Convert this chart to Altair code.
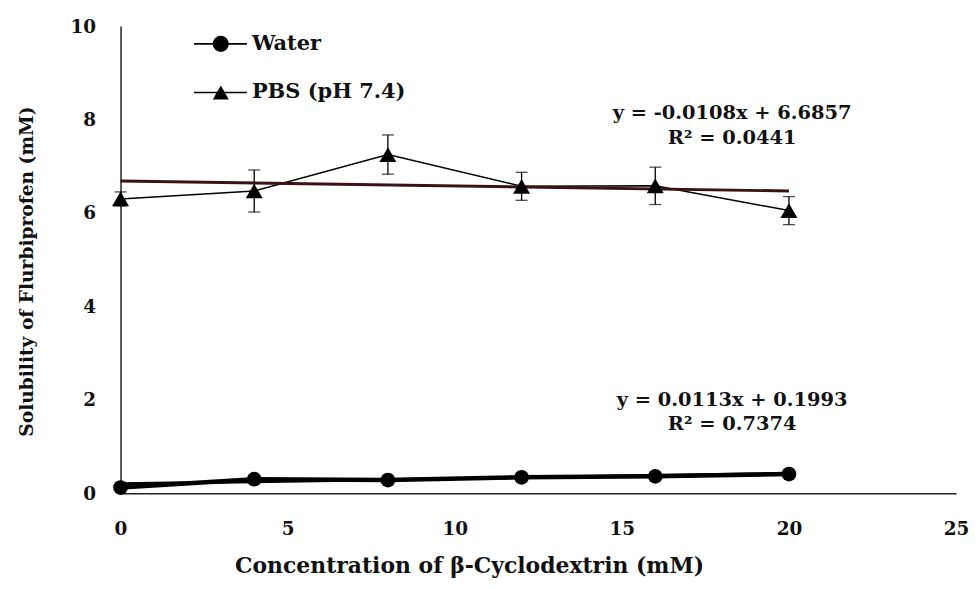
import altair as alt
import pandas as pd

# ---- data ----
conc = [0, 4, 8, 12, 16, 20]
water = [0.12, 0.30, 0.28, 0.34, 0.36, 0.41]
pbs = [6.30, 6.47, 7.25, 6.57, 6.58, 6.05]
pbs_err = [0.15, 0.45, 0.42, 0.30, 0.40, 0.30]
series = ["Water", "PBS (pH 7.4)"]
trend_slope = [0.0113, -0.0108]
trend_intercept = [0.1993, 6.6857]
trend_x = [0, 20]
eq_text = ["y = 0.0113x + 0.1993", "R² = 0.7374", "y = -0.0108x + 6.6857", "R² = 0.0441"]
eq_x = [18.3, 18.3, 18.3, 18.3]
eq_y = [2.0, 1.47, 8.14, 7.61]
x_ticks = [0, 5, 10, 15, 20, 25]
y_ticks = [0, 2, 4, 6, 8, 10]
# legend placement, in data units (top-left corner of the plot)
legend_y = [9.62, 8.58]
legend_x_start = [2.20, 2.20]
legend_x_end = [3.78, 3.78]
legend_x_marker = [3.0, 3.0]
legend_x_label = [3.93, 3.93]

FONT = "DejaVu Serif"

water_df = pd.DataFrame({"x": conc, "y": water})
pbs_df = pd.DataFrame({"x": conc, "y": pbs, "lo": [v - e for v, e in zip(pbs, pbs_err)],
                       "hi": [v + e for v, e in zip(pbs, pbs_err)]})
trend_df = pd.DataFrame({"x": trend_x * 2,
                         "series": [series[0]] * 2 + [series[1]] * 2,
                         "m": [trend_slope[0]] * 2 + [trend_slope[1]] * 2,
                         "b": [trend_intercept[0]] * 2 + [trend_intercept[1]] * 2})
eq_df = pd.DataFrame({"x": eq_x, "y": eq_y, "t": eq_text})
legend_df = pd.DataFrame({"name": series, "y": legend_y, "x0": legend_x_start,
                          "x1": legend_x_end, "xm": legend_x_marker, "xl": legend_x_label})

xscale = alt.Scale(domain=[0, 25], nice=False, zero=False)
yscale = alt.Scale(domain=[0, 10], nice=False)

X = alt.X("x:Q", scale=xscale, axis=alt.Axis(
    values=x_ticks, title="Concentration of  β-Cyclodextrin (mM)",
    titleX=350, titleY=73, titleBaseline="middle", titleAnchor="middle",
    titleFontSize=22, labelPadding=26, labelFlush=False))
Y = alt.Y("y:Q", scale=yscale, axis=alt.Axis(
    values=y_ticks, title="Solubility of Flurbiprofen (mM)",
    titleX=-94, titleY=246, titleBaseline="middle", titleFontSize=18.7, labelPadding=25))

base_x = alt.X("x:Q", scale=xscale)
base_y = alt.Y("y:Q", scale=yscale)

# PBS series line (thin)
pbs_line = alt.Chart(pbs_df).mark_line(color="black", strokeWidth=1.5).encode(x=X, y=Y)

# error bars
err_rule = alt.Chart(pbs_df).mark_rule(color="black", strokeWidth=1.3).encode(
    x=base_x, y=alt.Y("lo:Q", scale=yscale), y2="hi:Q")
err_cap_hi = alt.Chart(pbs_df).mark_tick(color="black", orient="horizontal", size=12, thickness=1.3).encode(
    x=base_x, y=alt.Y("hi:Q", scale=yscale))
err_cap_lo = alt.Chart(pbs_df).mark_tick(color="black", orient="horizontal", size=12, thickness=1.3).encode(
    x=base_x, y=alt.Y("lo:Q", scale=yscale))

# trend lines
trend = alt.Chart(trend_df).transform_calculate(y="datum.m * datum.x + datum.b").mark_line(
    strokeWidth=3).encode(
    x=base_x, y=base_y, detail="series:N",
    color=alt.Color("series:N", scale=alt.Scale(domain=series, range=["black", "#3a1212"]), legend=None))

# water series (thick)
water_line = alt.Chart(water_df).mark_line(color="black", strokeWidth=4.5).encode(x=base_x, y=base_y)
water_pts = alt.Chart(water_df).mark_circle(color="black", size=220, opacity=1).encode(x=base_x, y=base_y)
pbs_pts = alt.Chart(pbs_df).mark_point(shape="triangle-up", filled=True, color="black", size=290,
                                       opacity=1).encode(x=base_x, y=base_y)

# equations
eq = alt.Chart(eq_df).mark_text(font=FONT, fontSize=19.5, fontWeight="bold", color="#111",
                                align="center", baseline="middle").encode(
    x=base_x, y=base_y, text="t:N")

# legend drawn as marks (line + marker + label)
leg = alt.Chart(legend_df)
leg_line = leg.mark_rule(color="black", strokeWidth=1.6).encode(
    x=alt.X("x0:Q", scale=xscale), x2="x1:Q", y=alt.Y("y:Q", scale=yscale))
leg_mark = leg.mark_point(filled=True, color="black", opacity=1, size=260).encode(
    x=alt.X("xm:Q", scale=xscale), y=alt.Y("y:Q", scale=yscale),
    shape=alt.Shape("name:N", scale=alt.Scale(domain=series, range=["circle", "triangle-up"]),
                    legend=None))
leg_text = leg.mark_text(font=FONT, fontSize=21, fontWeight="bold", color="#111",
                         align="left", baseline="middle").encode(
    x=alt.X("xl:Q", scale=xscale), y=alt.Y("y:Q", scale=yscale), text="name:N")

chart = alt.layer(pbs_line, err_rule, err_cap_hi, err_cap_lo, trend, water_line, water_pts,
                  pbs_pts, eq, leg_line, leg_mark, leg_text).properties(
    width=839, height=469,
    autosize=alt.AutoSizeParams(type="none"),
    padding={"left": 113, "top": 17, "right": 14, "bottom": 87},
).configure_view(stroke=None).configure_axis(
    grid=False, ticks=False, domainColor="#222", domainWidth=1.5,
    labelFont=FONT, labelFontSize=18.5, labelFontWeight="bold", labelColor="#111",
    titleFont=FONT, titleFontWeight="bold", titleColor="#111",
).configure_axisY(titleAngle=270)

chart.save("out.html", embed_options={"renderer": "svg", "actions": False})
